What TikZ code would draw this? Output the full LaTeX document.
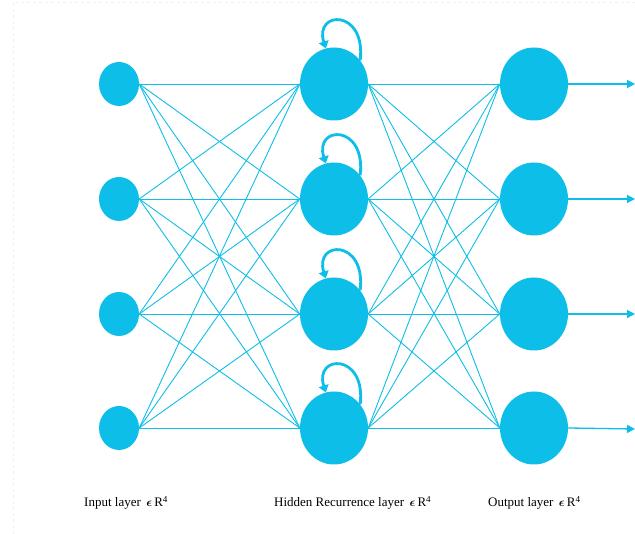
\documentclass[tikz,border=0pt]{standalone}
\usepackage{fontspec}
\setmainfont{Liberation Serif}
\usepackage{bm}
\usetikzlibrary{shapes.geometric,arrows.meta}
\definecolor{netcyan}{RGB}{13,190,232}
\tikzset{
  inneuron/.style={ellipse,fill=netcyan,draw=none,inner sep=0pt,minimum width=40pt,minimum height=44pt},
  bigneuron/.style={ellipse,fill=netcyan,draw=none,inner sep=0pt,minimum width=68pt,minimum height=73pt},
  wire/.style={draw=netcyan,line width=0.9pt},
  outarrow/.style={draw=netcyan,line width=1.3pt,-{Triangle[length=8pt,width=8pt]}},
  selfloop/.style={draw=netcyan,line width=2.8pt,-{Triangle[length=7pt,width=10pt]}},
  layerlabel/.style={anchor=base west,font=\fontsize{13}{15}\selectfont,inner sep=0pt}
}
\newcommand{\inR}{~\,$\bm{\epsilon}$\,R\textsuperscript{4}}
\begin{document}
\begin{tikzpicture}[x=1pt,y=-1pt]
  \useasboundingbox (0,0) rectangle (635,534);
  % faint page frame
  \draw[gray!12,dashed,line width=0.6pt] (13,534) -- (13,2) -- (635,2);

  % neurons of the three layers
  \foreach \k/\y in {1/84,2/199,3/314,4/428}{
    \node[inneuron]  (i\k) at (119,\y) {};
    \node[bigneuron] (h\k) at (334,\y) {};
    \node[bigneuron] (o\k) at (534,\y) {};
  }

  % fully connected weights
  \foreach \a in {1,...,4}{
    \foreach \b in {1,...,4}{
      \draw[wire] (i\a.east) -- (h\b.west);
      \draw[wire] (h\a.east) -- (o\b.west);
    }
  }

  % outputs leaving the network
  \foreach \k in {1,...,4}{
    \coordinate (out\k) at (635,{84+115*(\k-1)});
    \draw[outarrow] (o\k.east) -- (out\k);
  }

  % recurrent self connections
  \foreach \k in {1,...,4}{
    \draw[selfloop] (h\k.42) .. controls ++(6,-52) and ++(-12,-38) .. (h\k.103);
  }

  % layer captions
  \node[layerlabel] (lin)  at (84,507)  {Input layer\inR};
  \node[layerlabel] (lhid) at (274,507) {Hidden Recurrence layer\inR};
  \node[layerlabel] (lout) at (488,507) {Output layer\inR};
\end{tikzpicture}
\end{document}
